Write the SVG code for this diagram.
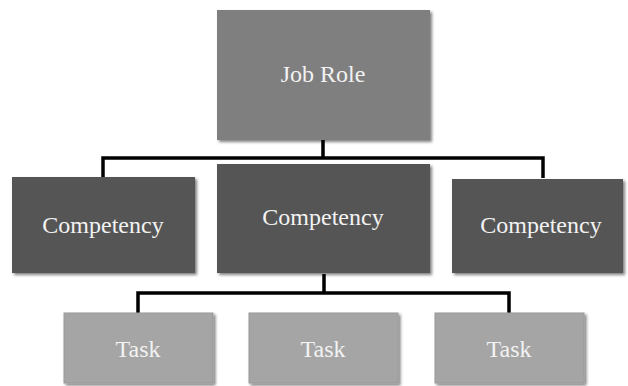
<svg xmlns="http://www.w3.org/2000/svg" width="628" height="386" viewBox="0 0 628 386">
<defs>
<filter id="sh" x="-10%" y="-10%" width="125%" height="130%">
<feGaussianBlur in="SourceAlpha" stdDeviation="1.5"/>
<feOffset dx="1.5" dy="2" result="b"/>
<feComponentTransfer><feFuncA type="linear" slope="0.5"/></feComponentTransfer>
<feMerge><feMergeNode/><feMergeNode in="SourceGraphic"/></feMerge>
</filter>
</defs>
<style>
.role{fill:#7f7f7f;filter:url(#sh)}
.comp{fill:#545454;filter:url(#sh)}
.task{fill:#a5a5a5;stroke:#999;stroke-width:1;filter:url(#sh)}
text{font-family:"Liberation Serif","Times New Roman",serif;font-size:24px;fill:#f2f2f2;text-anchor:middle}
.ln{fill:none;stroke:#000;stroke-width:3.5}
</style>
<rect width="628" height="386" fill="#fff"/>
<g id="connectors">
<path class="ln" d="M323 140 V158 M103 177 V158 H543 V178"/>
<path class="ln" d="M324 274 V293 M138 313 V293 H509 V313"/>
</g>
<g id="jobrole"><rect class="role" x="217" y="10" width="213" height="130"/><text x="323" y="82">Job Role</text></g>
<g id="comp1"><rect class="comp" x="12" y="177" width="183" height="96"/><text x="103" y="233">Competency</text></g>
<g id="comp2"><rect class="comp" x="217" y="164" width="213" height="109"/><text x="323" y="225">Competency</text></g>
<g id="comp3"><rect class="comp" x="452" y="179" width="171" height="94"/><text x="541" y="233">Competency</text></g>
<g id="task1"><rect class="task" x="64" y="313" width="149" height="70"/><text x="138" y="357">Task</text></g>
<g id="task2"><rect class="task" x="249" y="313" width="149" height="70"/><text x="323" y="357">Task</text></g>
<g id="task3"><rect class="task" x="435" y="313" width="149" height="70"/><text x="509" y="357">Task</text></g>
</svg>
